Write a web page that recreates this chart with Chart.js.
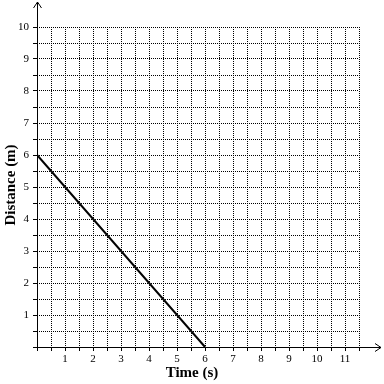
<!DOCTYPE html>
<html>
<head>
<meta charset="utf-8">
<script src="https://cdn.jsdelivr.net/npm/chart.js@4"></script>
<style>
  html,body{margin:0;padding:0;background:#fff;}
  #wrap{width:384px;height:384px;}
</style>
</head>
<body>
<div id="wrap"><canvas id="distChart" width="384" height="384"></canvas></div>
<script>
    const times=[0, 6];
    const distances=[6, 0];
    const xTicks=[0, 0.5, 1, 1.5, 2, 2.5, 3, 3.5, 4, 4.5, 5, 5.5, 6, 6.5, 7, 7.5, 8, 8.5, 9, 9.5, 10, 10.5, 11, 11.5];
    const yTicks=[0, 0.5, 1, 1.5, 2, 2.5, 3, 3.5, 4, 4.5, 5, 5.5, 6, 6.5, 7, 7.5, 8, 8.5, 9, 9.5, 10];

    const serif="'Liberation Serif', 'DejaVu Serif', serif";

    // axes with arrows + axis titles, drawn outside the grid area
    const axisPlugin={
        id: "axisArrows",
        afterDraw(chart) {
            const ctx=chart.ctx;
            const x0=Math.round(chart.scales.x.getPixelForValue(0))+0.5;
            const y0=Math.round(chart.scales.y.getPixelForValue(0))+0.5;
            ctx.save();
            ctx.strokeStyle="#000";
            ctx.lineWidth=1;
            ctx.setLineDash([]);
            ctx.beginPath();
            ctx.moveTo(x0, y0);
            ctx.lineTo(381, y0);
            ctx.moveTo(375, y0-4);
            ctx.lineTo(381, y0);
            ctx.lineTo(375, y0+4);
            ctx.moveTo(x0, y0);
            ctx.lineTo(x0, 2);
            ctx.moveTo(x0-4, 8);
            ctx.lineTo(x0, 2);
            ctx.lineTo(x0+4, 8);
            ctx.stroke();

            ctx.fillStyle="#000";
            ctx.font="bold 15px "+serif;
            ctx.textAlign="center";
            ctx.textBaseline="middle";
            ctx.fillText("Time (s)", 192, 373);
            ctx.translate(11, 185);
            ctx.rotate(-Math.PI/2);
            ctx.fillText("Distance (m)", 0, 0);
            ctx.restore();
        },
    };

    const ctxDist=document.getElementById("distChart").getContext("2d");
    const distChart=new Chart(ctxDist,{
        type: "scatter",
        data: {
            datasets: [{
                data: times.map((t, i) => ({x: t, y: distances[i]})),
                showLine: true,
                borderColor: "#000",
                borderWidth: 2,
                pointRadius: 0,
                fill: false,
            }],
        },
        options: {
            responsive: false,
            animation: false,
            layout: {
                padding: {top: 27, right: 25, left: 0, bottom: 0},
            },
            plugins: {
                legend: {display: false},
                tooltip: {enabled: false},
            },
            scales: {
                x: {
                    type: "linear",
                    min: 0,
                    max: 11.5,
                    afterFit: function(scale) { scale.height=37; },
                    afterBuildTicks: function(scale) { scale.ticks=xTicks.map(v => ({value: v})); },
                    border: {display: false, dash: [1, 1]},
                    grid: {
                        color: c => c.tick.value===0 ? "rgba(0,0,0,0)" : "#000",
                        tickColor: "#000",
                        tickBorderDash: [],
                        tickLength: 4,
                        drawTicks: true,
                    },
                    ticks: {
                        autoSkip: false,
                        maxRotation: 0,
                        color: "#000",
                        padding: 2,
                        font: {family: serif, size: 11},
                        callback: v => (v>0 && Number.isInteger(v)) ? String(v) : "",
                    },
                },
                y: {
                    type: "linear",
                    min: 0,
                    max: 10,
                    afterFit: function(scale) { scale.width=37; },
                    afterBuildTicks: function(scale) { scale.ticks=yTicks.map(v => ({value: v})); },
                    border: {display: false, dash: [1, 1]},
                    grid: {
                        color: c => c.tick.value===0 ? "rgba(0,0,0,0)" : "#000",
                        tickColor: "#000",
                        tickBorderDash: [],
                        tickLength: 4,
                        drawTicks: true,
                    },
                    ticks: {
                        autoSkip: false,
                        color: "#000",
                        padding: 4,
                        font: {family: serif, size: 11},
                        callback: v => (v>0 && Number.isInteger(v)) ? String(v) : "",
                    },
                },
            },
        },
        plugins: [axisPlugin],
    });
</script>
</body>
</html>
